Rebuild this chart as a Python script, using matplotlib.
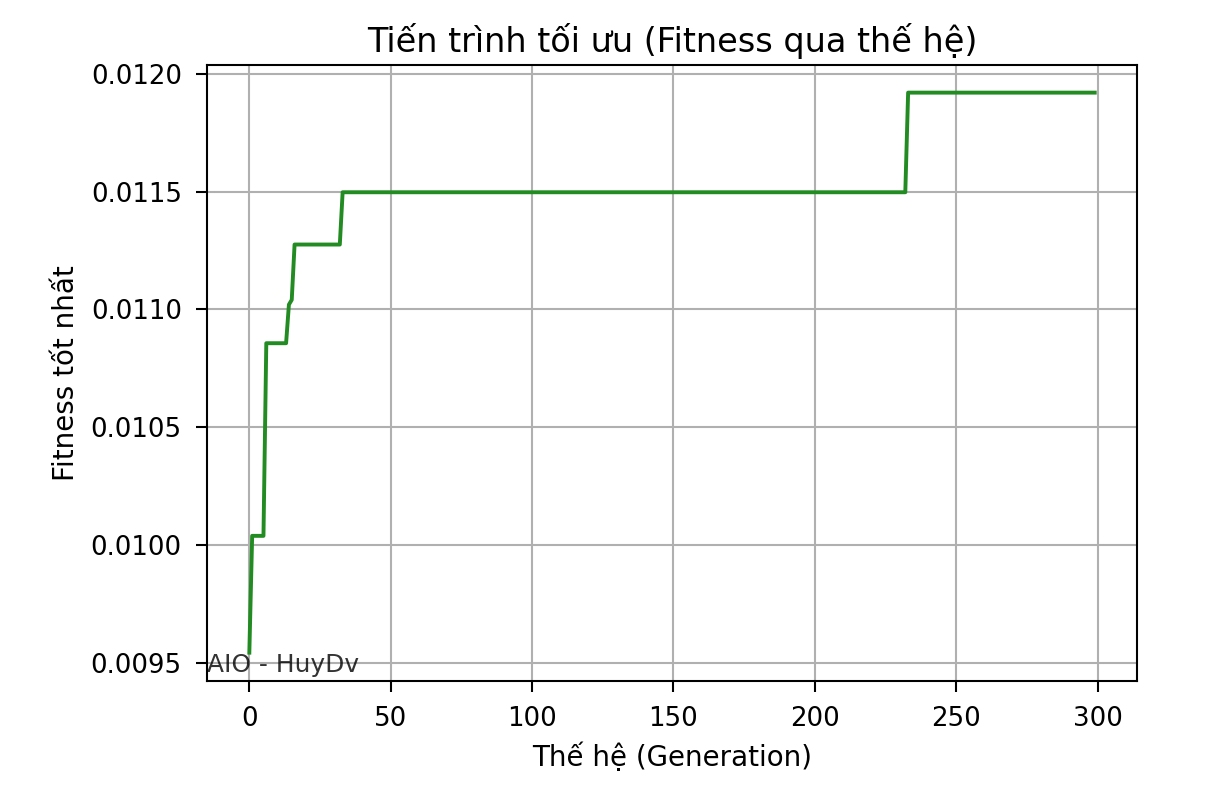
import numpy as np
import matplotlib.pyplot as plt

# Best fitness per generation, stored as runs (value held for N generations)
run_values = [0.009542, 0.010038, 0.010856, 0.011020, 0.011040, 0.011275, 0.011497, 0.011920]
run_lengths = [1, 5, 8, 1, 1, 17, 200, 67]

best_fitness = np.repeat(run_values, run_lengths)
generations = np.arange(len(best_fitness))

dpi = 187
fig = plt.figure(figsize=(1218 / dpi, 796 / dpi), dpi=dpi)
ax = fig.add_axes([0.17, 0.1449, 0.7635, 0.7739])

ax.plot(generations, best_fitness, color="forestgreen", linewidth=1.5)
ax.set_title("Tiến trình tối ưu (Fitness qua thế hệ)", fontsize=12.9, pad=5)
ax.set_xlabel("Thế hệ (Generation)", fontsize=10.7)
ax.set_ylabel("Fitness tốt nhất", fontsize=10.7)
ax.tick_params(length=4.2, pad=5.5)
ax.grid(True)

ax.text(0.0, 0.006, "AIO - HuyDv", transform=ax.transAxes,
        fontsize=9.6, color="black", alpha=0.8, ha="left", va="bottom")

fig.savefig("out.png", dpi=dpi)
